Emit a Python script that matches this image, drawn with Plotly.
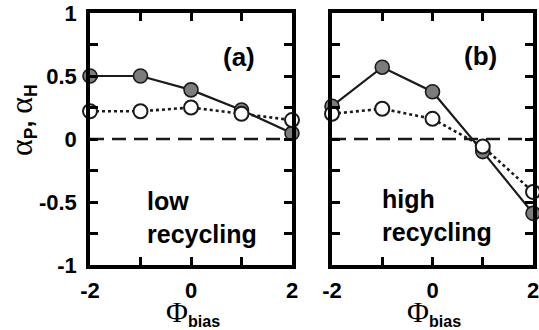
import plotly.graph_objects as go

# Data
phi_bias = [-2, -1, 0, 1, 2]
alpha_p_low = [0.50, 0.50, 0.39, 0.23, 0.045]
alpha_h_low = [0.22, 0.22, 0.25, 0.20, 0.15]
alpha_p_high = [0.26, 0.57, 0.375, -0.10, -0.59]
alpha_h_high = [0.20, 0.24, 0.16, -0.06, -0.42]

x_tickvals = [-2, -1, 0, 1, 2]
x_ticktext = ["-2", "", "0", "", "2"]
y_tickvals = [-1, -0.75, -0.5, -0.25, 0, 0.25, 0.5, 0.75, 1]
y_ticktext = ["-1", "", "-0.5", "", "0", "", "0.5", "", "1"]

FONT = "Liberation Sans"
FILL = "#7c7c7c"

fig = go.Figure()

def add_panel(xa, ya, p_vals, h_vals):
    fig.add_trace(go.Scatter(
        x=phi_bias, y=p_vals, xaxis=xa, yaxis=ya, mode="lines+markers",
        line=dict(color="#1a1a1a", width=2.2),
        marker=dict(size=14, color=FILL, line=dict(color="#1a1a1a", width=1.6)),
        cliponaxis=False, showlegend=False))
    fig.add_trace(go.Scatter(
        x=phi_bias, y=h_vals, xaxis=xa, yaxis=ya, mode="lines+markers",
        line=dict(color="#1a1a1a", width=2.6, dash="3px,3px"),
        marker=dict(size=14, color="white", line=dict(color="#1a1a1a", width=2)),
        cliponaxis=False, showlegend=False))

add_panel("x", "y", alpha_p_low, alpha_h_low)
add_panel("x2", "y2", alpha_p_high, alpha_h_high)

axis_common = dict(
    showline=True, linecolor="black", linewidth=3.5, mirror="allticks",
    ticks="inside", ticklen=8, tickwidth=2.5, tickcolor="black",
    showgrid=False, zeroline=False, automargin=False, ticklabeloverflow="allow",
    tickfont=dict(family=FONT, size=22, color="black", weight="bold"),
)

W, H = 539, 330
l, r, t, b = 90, 6, 13, 65
pw = W - l - r

fig.update_layout(
    width=W, height=H,
    margin=dict(l=l, r=r, t=t, b=b, autoexpand=False),
    paper_bgcolor="white", plot_bgcolor="white",
    xaxis=dict(domain=[0, 202 / pw], range=[-2, 2], tickvals=x_tickvals,
               ticktext=x_ticktext, ticklabelstandoff=3, **axis_common),
    xaxis2=dict(domain=[242 / pw, 1], range=[-2, 2], tickvals=x_tickvals,
                ticktext=x_ticktext, anchor="y2", ticklabelstandoff=3, **axis_common),
    yaxis=dict(range=[-1, 1], tickvals=y_tickvals, ticktext=y_ticktext,
               ticklabelstandoff=5, **axis_common),
    yaxis2=dict(range=[-1, 1], tickvals=y_tickvals, ticktext=y_ticktext,
                anchor="x2", showticklabels=False, **axis_common),
)

# zero dashed lines
for xr, yr in [("x domain", "y"), ("x2 domain", "y2")]:
    fig.add_shape(type="line", xref=xr, yref=yr, x0=0, x1=1, y0=0, y1=0,
                  line=dict(color="#1a1a1a", width=2.5, dash="14px,8px"),
                  layer="below")

def px_x(p):
    return (p - l) / pw

def px_y(p):
    return (H - b - p) / (H - t - b)

bold = dict(family=FONT, color="black", weight="bold")

def note(text, x, y, size, xanchor="center", **kw):
    fig.add_annotation(text=text, x=px_x(x), y=px_y(y), xref="paper", yref="paper",
                       showarrow=False, xanchor=xanchor, yanchor="middle",
                       font=dict(size=size, **bold), **kw)

# panel labels
note("(a)", 239, 57, 26)
note("(b)", 480, 56, 26)

note("low<br>recycling", 145, 217, 25, xanchor="left", align="left")
note("high<br>recycling", 380, 215, 25, xanchor="left", align="left")

# axis titles
alpha = '<span style="font-family:Liberation Serif;font-weight:normal;font-size:32px">α</span>'
ytitle = alpha + "<sub>P</sub>, " + alpha + "<sub>H</sub>"
note(ytitle, 22, 120, 25, textangle=-90)

phi = '<span style="font-family:Liberation Serif;font-weight:normal;font-size:30px">Φ</span>'
xtitle = phi + "<sub>bias</sub>"
note(xtitle, 193, 312, 23)
note(xtitle, 434, 312, 23)

fig.write_html("out.html", config={"displayModeBar": False},
               post_script="document.body.style.margin='0';document.body.style.overflow='hidden';")
